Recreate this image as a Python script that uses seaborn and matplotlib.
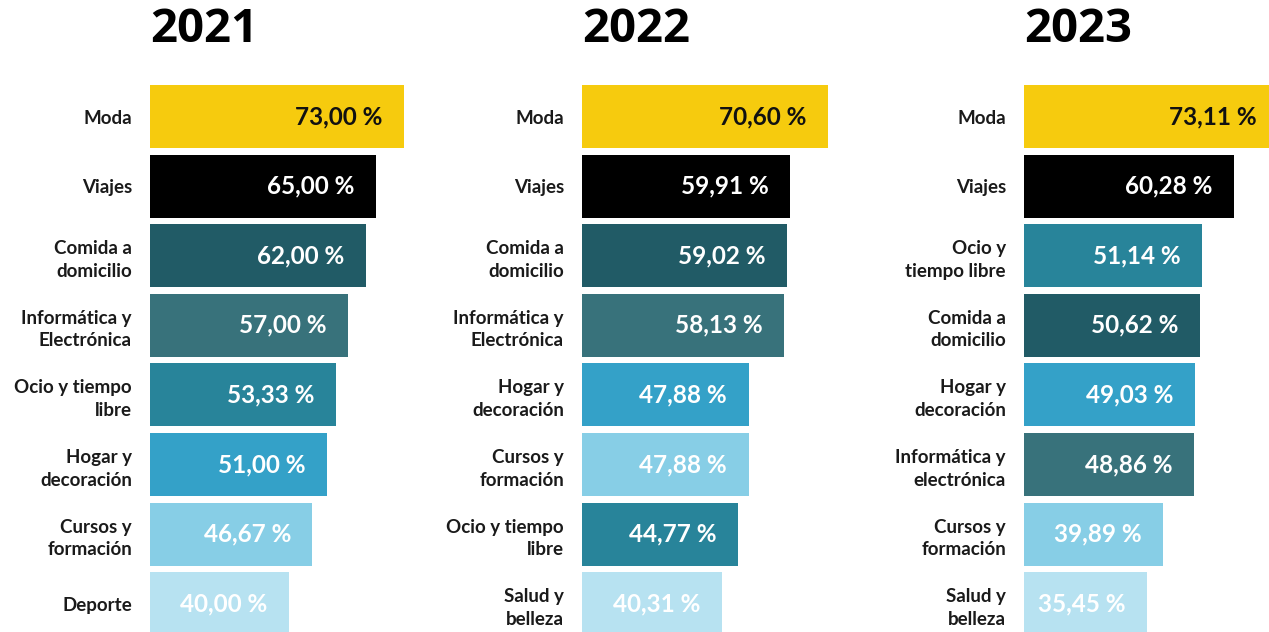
import matplotlib
matplotlib.use("Agg")
import matplotlib.pyplot as plt
import seaborn as sns
import pandas as pd

# Survey results: share of online shoppers buying each category, by year
years = ["2021", "2022", "2023"]

cats_2021 = ["Moda", "Viajes", "Comida a\ndomicilio", "Informática y\nElectrónica",
             "Ocio y tiempo\nlibre", "Hogar y\ndecoración", "Cursos y\nformación", "Deporte"]
vals_2021 = [73.00, 65.00, 62.00, 57.00, 53.33, 51.00, 46.67, 40.00]

cats_2022 = ["Moda", "Viajes", "Comida a\ndomicilio", "Informática y\nElectrónica",
             "Hogar y\ndecoración", "Cursos y\nformación", "Ocio y tiempo\nlibre", "Salud y\nbelleza"]
vals_2022 = [70.60, 59.91, 59.02, 58.13, 47.88, 47.88, 44.77, 40.31]

cats_2023 = ["Moda", "Viajes", "Ocio y\ntiempo libre", "Comida a\ndomicilio",
             "Hogar y\ndecoración", "Informática y\nelectrónica", "Cursos y\nformación", "Salud y\nbelleza"]
vals_2023 = [73.11, 60.28, 51.14, 50.62, 49.03, 48.86, 39.89, 35.45]

# Colour per category (keys are labels with line breaks removed, lower case)
category_colors = {
    "moda": "#F6CB0E",
    "viajes": "#000000",
    "comida a domicilio": "#215B66",
    "informática y electrónica": "#38727B",
    "ocio y tiempo libre": "#28849A",
    "hogar y decoración": "#34A1C8",
    "cursos y formación": "#87CEE6",
    "deporte": "#B7E2F1",
    "salud y belleza": "#B7E2F1",
}

def key(label):
    return label.replace("\n", " ").lower()

sns.set_theme(style="white")
plt.rcParams["font.family"] = ["Lato", "DejaVu Sans"]

W, H, DPI = 1269, 632, 100
fig = plt.figure(figsize=(W / DPI, H / DPI), dpi=DPI)

px_per_unit = 3.48
axes_w_px = 262
row_px = 69.6
top_px = 116.5 - row_px / 2
bottom_px = top_px + 8 * row_px
starts_px = [150, 582, 1024]

panels = [(cats_2021, vals_2021), (cats_2022, vals_2022), (cats_2023, vals_2023)]

for year, x0, (cats, vals) in zip(years, starts_px, panels):
    ax = fig.add_axes([x0 / W, 1 - bottom_px / H, axes_w_px / W, (bottom_px - top_px) / H])
    df = pd.DataFrame({"categoria": cats, "valor": vals})
    palette = {c: category_colors[key(c)] for c in cats}
    sns.barplot(data=df, y="categoria", x="valor", hue="categoria", palette=palette,
                order=cats, hue_order=cats, width=0.905, legend=False, ax=ax,
                saturation=1, linewidth=0)
    ax.set_xlim(0, axes_w_px / px_per_unit)
    ax.set_ylim(len(cats) - 0.5, -0.5)
    ax.set_xlabel("")
    ax.set_ylabel("")
    ax.set_xticks([])
    ax.tick_params(axis="y", length=0, pad=13)
    for lab in ax.get_yticklabels():
        lab.set_fontsize(13.5)
        lab.set_fontweight("bold")
        lab.set_color("#1a1a1a")
        lab.set_multialignment("right")
        lab.set_linespacing(1.4)
    sns.despine(ax=ax, left=True, bottom=True)
    ax.patch.set_alpha(0)

    for i, (c, v) in enumerate(zip(cats, vals)):
        txt = f"{v:.2f}".replace(".", ",") + " %"
        color = "#111111" if key(c) == "moda" else "white"
        ax.annotate(txt, xy=(v, i), xytext=(-15.5, 0), textcoords="offset points",
                    ha="right", va="center", fontsize=17.5, fontweight="bold", color=color)

    fig.text(x0 / W, 1 - 30 / H, year, ha="left", va="center",
             fontsize=34, fontweight="bold", color="black",
             family=["Open Sans", "DejaVu Sans"])

fig.savefig("out.png", dpi=DPI)
